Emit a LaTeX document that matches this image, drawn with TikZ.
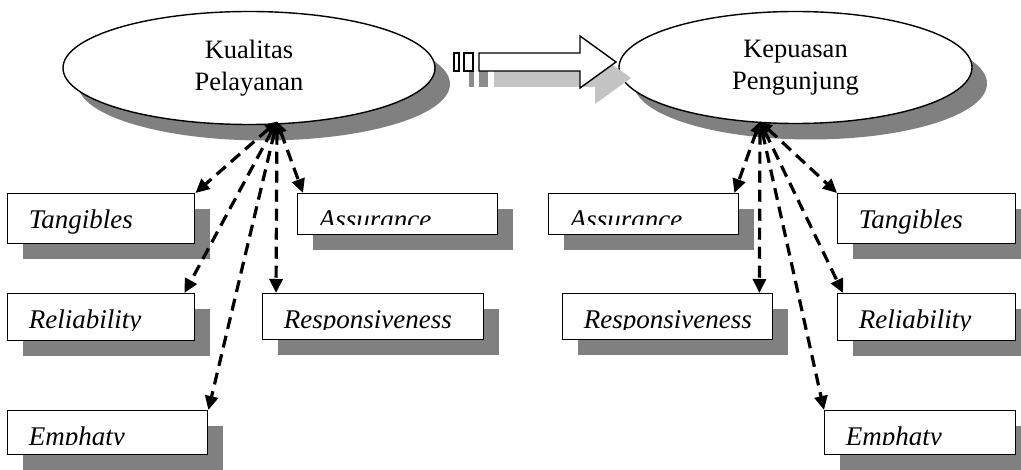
\documentclass[tikz,border=0pt]{standalone}
\usepackage{fontspec}
\setmainfont{Liberation Serif}
\usetikzlibrary{shapes.geometric,arrows.meta,shadows}
\definecolor{shgray}{HTML}{808080}
\definecolor{arrsh}{HTML}{C4C4C4}
\definecolor{arrshd}{HTML}{8C8C8C}
\tikzset{
  oval/.style={ellipse, draw, line width=1.4pt, fill=white, inner sep=0pt,
    align=center, font=\fontsize{26.5}{32.5}\selectfont,
    drop shadow={shadow xshift=15pt, shadow yshift=-16pt, fill=shgray, opacity=1}},
  lbl/.style={rectangle, draw, line width=1.4pt, fill=white, inner sep=0pt, anchor=north west,
    drop shadow={shadow xshift=15pt, shadow yshift=-15pt, fill=shgray, opacity=1}},
  lbltext/.style={rectangle, draw=none, fill=none, minimum width=0pt, minimum height=0pt,
    anchor=base west, inner sep=0pt, font=\fontsize{27}{30}\selectfont\itshape},
  dar/.style={line width=3.2pt, dash pattern=on 12pt off 7pt,
    {Triangle[length=12pt,width=11pt]}-{Triangle[length=14pt,width=13pt]}},
  blockarrow/.style={draw, line width=1.4pt, fill=white},
}
\newcommand\labelbox[6]{%
  \node[lbl, minimum width=#4pt, minimum height=#5pt,
    path picture={
      \clip ([shift={(1pt,-1pt)}]path picture bounding box.north west) rectangle
            ([yshift=10pt]path picture bounding box.south east);
      \node[lbltext] at ([shift={(20.5pt,-34.5pt)}]path picture bounding box.north west) {#6};
    }] (#1) at (#2,#3) {};}
\begin{document}
\begin{tikzpicture}[x=1pt,y=-1pt]
\useasboundingbox (0,0) rectangle (1021,470);

% ellipses
\node[oval, minimum width=372pt, minimum height=113pt, yshift=-2.5pt] (KP) at (249,65.5) {Kualitas\\Pelayanan};
\node[oval, minimum width=353pt, minimum height=112pt, yshift=-2.5pt] (KPg) at (795.5,65) {Kepuasan\\Pengunjung};

% block arrow shadow
\fill[arrshd] (469,69) rectangle (474,87);
\fill[arrshd] (479,69) rectangle (488,87);
\fill[arrsh] (494,69) -- (595,69) -- (595,52) -- (631,78) -- (595,104) -- (595,87) -- (494,87) -- cycle;
% block arrow
\draw[blockarrow] (454,53) rectangle (459,71);
\draw[blockarrow] (464,53) rectangle (473,71);
\draw[blockarrow] (479,53) -- (580,53) -- (580,36) -- (616,62) -- (580,88) -- (580,71) -- (479,71) -- cycle;

% left boxes
\labelbox{TL}{7}{193}{187}{50}{Tangibles}
\labelbox{AL}{297}{193}{200}{41}{Assurance}
\labelbox{RL}{7}{293}{187}{47}{Reliability}
\labelbox{SL}{262}{293}{221}{46}{Responsiveness}
\labelbox{EL}{7}{410}{200}{44}{Emphaty}

% right boxes
\labelbox{AR}{548}{193}{190}{41}{Assurance}
\labelbox{TR}{837}{193}{178}{50}{Tangibles}
\labelbox{SR}{562}{293}{210}{46}{Responsiveness}
\labelbox{RR}{837}{293}{178}{47}{Reliability}
\labelbox{ER}{824}{410}{191}{44}{Emphaty}

% connectors
\coordinate (oL) at (277,121.5);
\coordinate (oR) at (760,121.5);
\draw[dar] (oL) -- (TL.north east);
\draw[dar] (oL) -- ([xshift=6pt]AL.north west);
\draw[dar] (oL) -- ([xshift=-11pt]RL.north east);
\draw[dar] (oL) -- ([xshift=14pt]SL.north west);
\draw[dar] (oL) -- (EL.north east);

\draw[dar] (oR) -- ([xshift=-5pt]AR.north east);
\draw[dar] (oR) -- (TR.north west);
\draw[dar] (oR) -- ([xshift=-14pt]SR.north east);
\draw[dar] (oR) -- ([xshift=6pt]RR.north west);
\draw[dar] (oR) -- (ER.north west);
\end{tikzpicture}
\end{document}
